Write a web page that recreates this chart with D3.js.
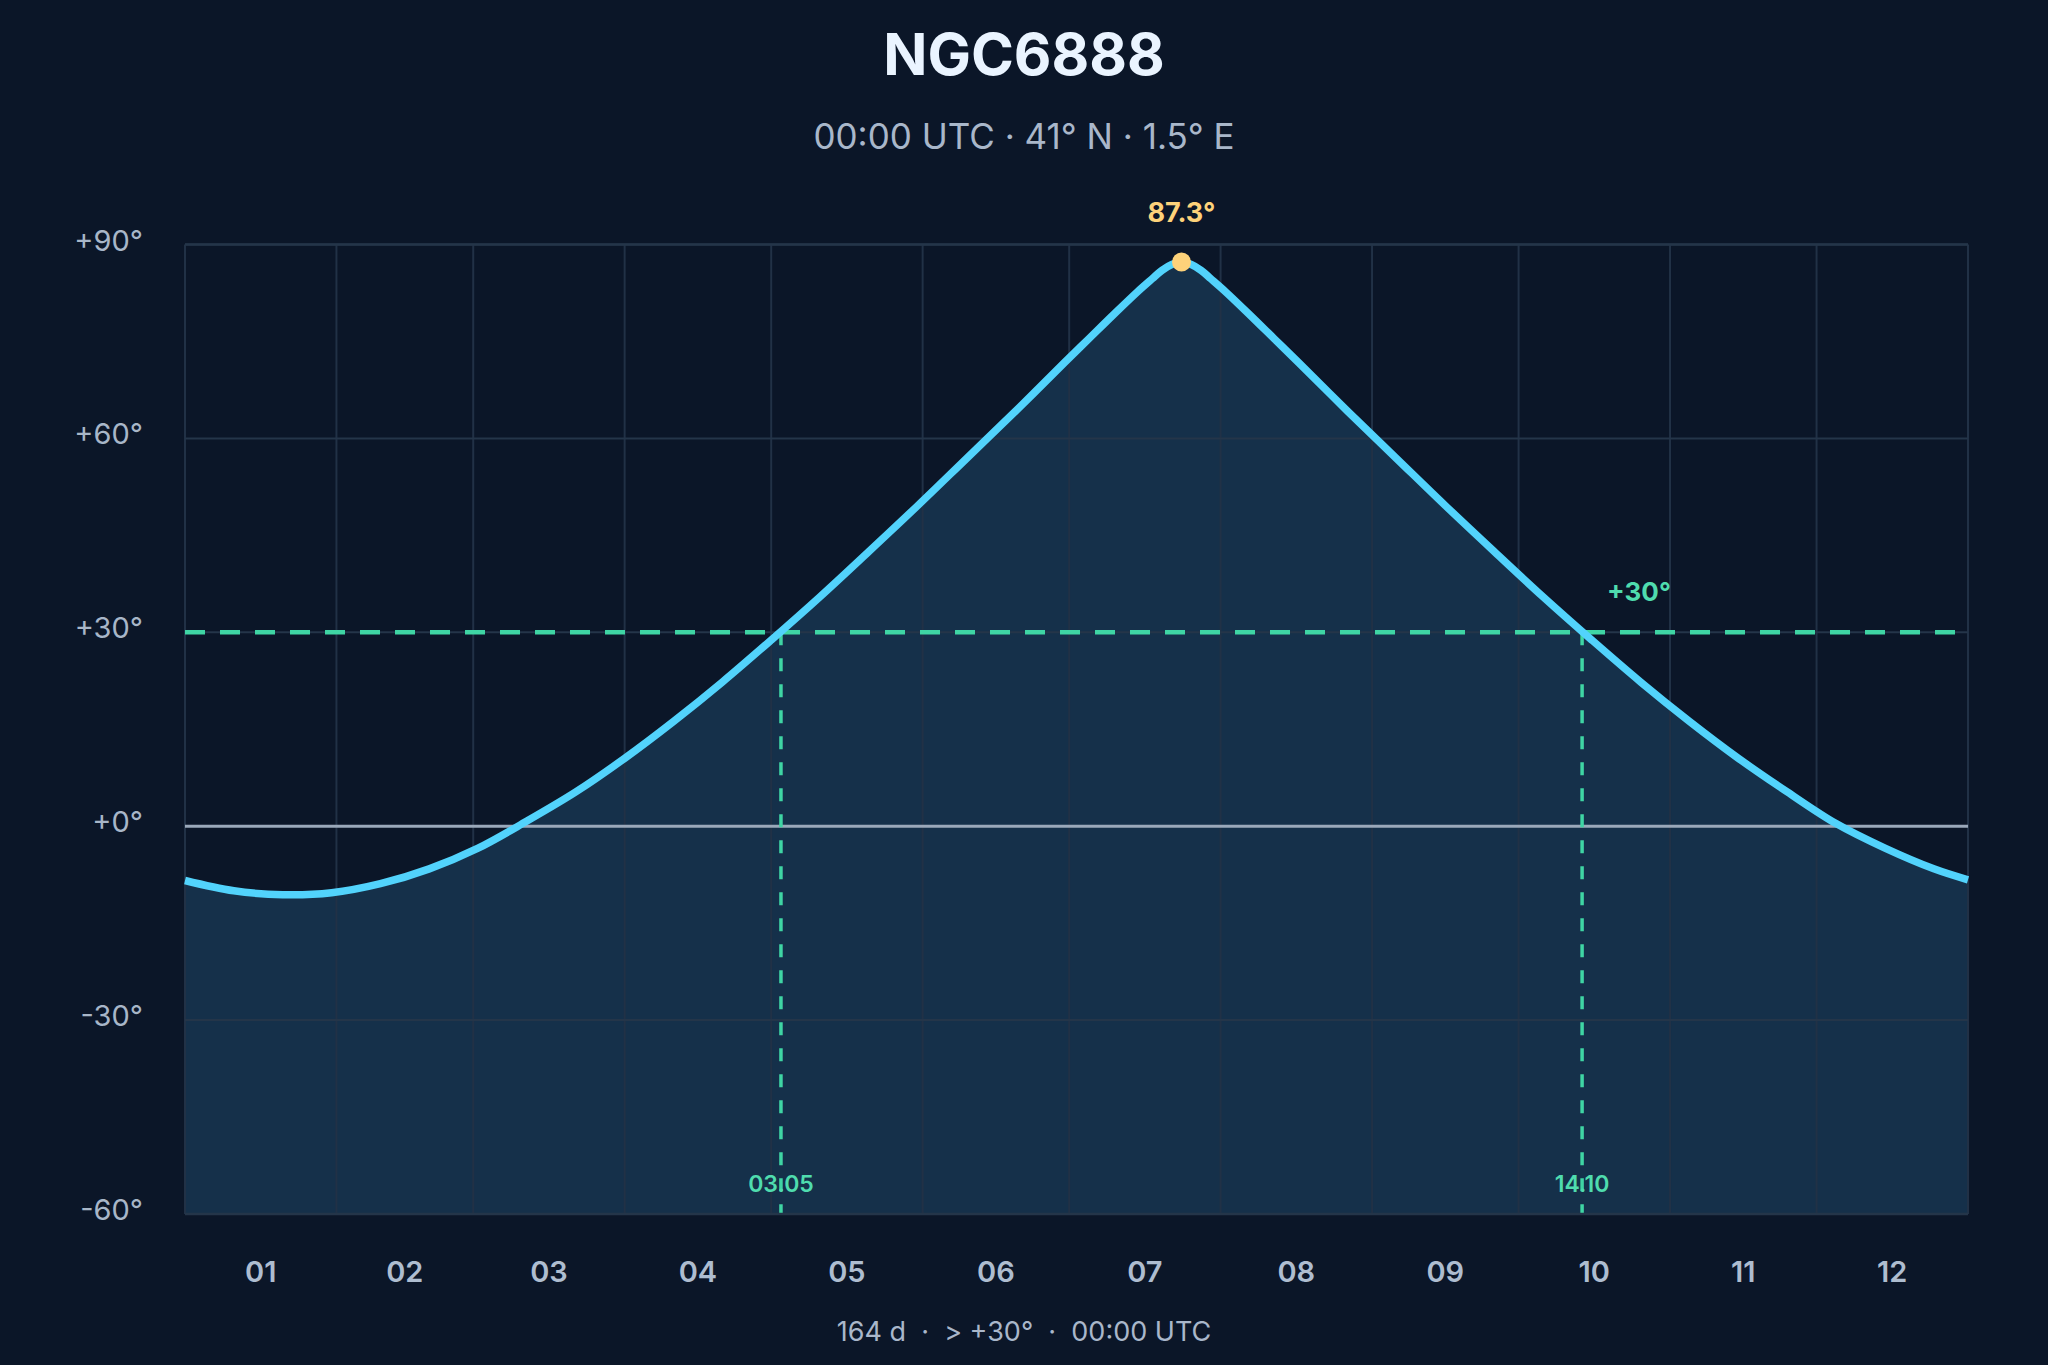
<!DOCTYPE html>
<html>
<head>
<meta charset="utf-8">
<script src="https://cdn.jsdelivr.net/npm/d3@7"></script>
<style>
  html, body { margin: 0; padding: 0; background: #0b1628; }
  svg { display: block; font-family: Inter, "Noto Sans", sans-serif; }
</style>
</head>
<body>
<div id="chart"></div>
<script>
// altitude of NGC6888 at 00:00 UTC (day of year, degrees)
const dayOfYear = [0, 10, 20, 30, 40, 50, 60, 70, 80, 90, 100, 110, 120, 130, 140, 150, 160, 170, 180,
    185, 190, 195, 198, 200, 202, 204, 206, 208, 210, 213, 218, 223, 228,
    238, 248, 258, 268, 278, 288, 298, 308, 318, 328, 338, 348, 358, 365];
const altitude = [-8.4, -10.0, -10.6, -10.3, -8.9, -6.6, -3.4, 0.8, 5.3, 10.5, 16.2, 22.3, 28.8, 35.5, 42.5, 49.6, 56.9, 64.2, 71.7,
    75.4, 79.1, 82.7, 84.7, 86.0, 86.9, 87.3, 86.9, 86.0, 84.7, 82.7, 79.1, 75.4, 71.7,
    64.2, 56.9, 49.6, 42.5, 35.5, 28.8, 22.3, 16.2, 10.5, 5.3, 0.4, -3.4, -6.6, -8.3];

const monthLabels = ["01", "02", "03", "04", "05", "06", "07", "08", "09", "10", "11", "12"];
const yTicks = [90, 60, 30, 0, -30, -60];
const yTickLabels = ["+90°", "+60°", "+30°", "+0°", "-30°", "-60°"];

const threshold = 30;
const crossDays = [122, 286];           // 03.05 and 14.10
const crossLabels = ["03.05", "14.10"];
const peakDay = 204;
const peakAlt = 87.3;

const title = "NGC6888";
const subtitle = "00:00 UTC · 41° N · 1.5° E";
const footer = "164 d  ·  > +30°  ·  00:00 UTC";

// dimensions
const W = 2048, H = 1365;
const margin = {top: 244.5, right: 80, bottom: 151, left: 185};
const width = W - margin.left - margin.right,
    height = H - margin.top - margin.bottom;

const start = new Date(Date.UTC(2025, 0, 1)),
    end = new Date(Date.UTC(2026, 0, 1));
const toDate = d => d3.utcDay.offset(start, d);

const data = dayOfYear.map((d, i) => ({date: toDate(d), alt: altitude[i]}));

const svg = d3.select("#chart")
    .append("svg")
        .attr("width", W)
        .attr("height", H);

svg.append("rect")
    .attr("width", W).attr("height", H)
    .attr("fill", "#0b1628");

const g = svg.append("g")
    .attr("transform", "translate(" + margin.left + "," + margin.top + ")");

const x = d3.scaleUtc()
    .domain([start, end])
    .range([0, width]);

const y = d3.scaleLinear()
    .domain([-60, 90])
    .range([height, 0]);

// area under the curve
g.append("path")
    .datum(data)
    .attr("fill", "#15304a")
    .attr("d", d3.area()
        .curve(d3.curveCatmullRom)
        .x(d => x(d.date))
        .y0(height)
        .y1(d => y(d.alt)));

// grid
const months = d3.utcMonth.range(start, end);
g.append("g")
    .selectAll("line")
    .data(months.concat([end]))
    .join("line")
        .attr("x1", d => x(d)).attr("x2", d => x(d))
        .attr("y1", 0).attr("y2", height)
        .attr("stroke", "#213146")
        .attr("stroke-width", 2);

g.append("g")
    .selectAll("line")
    .data(yTicks.filter(v => v != 0))
    .join("line")
        .attr("x1", 0).attr("x2", width)
        .attr("y1", d => y(d)).attr("y2", d => y(d))
        .attr("stroke", "#243549")
        .attr("stroke-width", 2);

// zero line
g.append("line")
    .attr("x1", 0).attr("x2", width)
    .attr("y1", y(0)).attr("y2", y(0))
    .attr("stroke", "#9aa8ba")
    .attr("stroke-width", 3);

// y labels
g.append("g")
    .selectAll("text")
    .data(yTicks)
    .join("text")
        .attr("x", -42)
        .attr("y", d => y(d) + 6)
        .attr("text-anchor", "end")
        .attr("fill", "#a8b6c8")
        .style("font-size", "29px")
        .text((d, i) => yTickLabels[i]);

// x labels at month middles
g.append("g")
    .selectAll("text")
    .data(months)
    .join("text")
        .attr("x", d => (x(d) + x(d3.utcMonth.offset(d, 1))) / 2)
        .attr("y", height + 68)
        .attr("text-anchor", "middle")
        .attr("fill", "#aebdd0")
        .style("font-size", "29px")
        .style("font-weight", 600)
        .text((d, i) => monthLabels[i]);

// threshold lines
const green = "#3fd5a4";
g.append("line")
    .attr("x1", 0).attr("x2", width)
    .attr("y1", y(threshold)).attr("y2", y(threshold))
    .attr("stroke", green)
    .attr("stroke-width", 4.5)
    .attr("stroke-dasharray", "20,15");

g.append("g")
    .selectAll("line")
    .data(crossDays)
    .join("line")
        .attr("x1", d => x(toDate(d))).attr("x2", d => x(toDate(d)))
        .attr("y1", y(threshold)).attr("y2", height)
        .attr("stroke", green)
        .attr("stroke-width", 3.5)
        .attr("stroke-dasharray", "13,13");

// the curve
g.append("path")
    .datum(data)
    .attr("fill", "none")
    .attr("stroke", "#52d3fc")
    .attr("stroke-width", 7.5)
    .attr("stroke-linejoin", "round")
    .attr("d", d3.line()
        .curve(d3.curveCatmullRom)
        .x(d => x(d.date))
        .y(d => y(d.alt)));

// plot frame top / bottom
g.append("line")
    .attr("x1", 0).attr("x2", width)
    .attr("y1", 0).attr("y2", 0)
    .attr("stroke", "#243549").attr("stroke-width", 2.5);
g.append("line")
    .attr("x1", 0).attr("x2", width)
    .attr("y1", height).attr("y2", height)
    .attr("stroke", "#243549").attr("stroke-width", 2.5);

// crossing labels
g.append("g")
    .selectAll("text")
    .data(crossDays)
    .join("text")
        .attr("x", d => x(toDate(d)))
        .attr("y", height - 22)
        .attr("text-anchor", "middle")
        .attr("fill", "#4fdcae")
        .style("font-size", "23px")
        .style("font-weight", 600)
        .text((d, i) => crossLabels[i]);

// +30 label
g.append("text")
    .attr("x", x(toDate(crossDays[1])) + 25)
    .attr("y", y(threshold) - 31)
    .attr("fill", "#4fdcae")
    .style("font-size", "26px")
    .style("font-weight", 700)
    .text("+30°");

// peak
g.append("circle")
    .attr("cx", x(toDate(peakDay)))
    .attr("cy", y(peakAlt))
    .attr("r", 9.5)
    .attr("fill", "#fdd27a");

g.append("text")
    .attr("x", x(toDate(peakDay)))
    .attr("y", y(peakAlt) - 40)
    .attr("text-anchor", "middle")
    .attr("fill", "#fdd27a")
    .style("font-size", "27px")
    .style("font-weight", 700)
    .text(peakAlt.toFixed(1) + "°");

// titles
svg.append("text")
    .attr("x", W / 2)
    .attr("y", 75)
    .attr("text-anchor", "middle")
    .attr("fill", "#eaf4ff")
    .style("font-size", "58px")
    .style("font-weight", 700)
    .text(title);

svg.append("text")
    .attr("x", W / 2)
    .attr("y", 149)
    .attr("text-anchor", "middle")
    .attr("fill", "#a9b7ca")
    .style("font-size", "35px")
    .text(subtitle);

svg.append("text")
    .attr("x", W / 2)
    .attr("y", 1341)
    .attr("text-anchor", "middle")
    .attr("fill", "#a9b7ca")
    .style("font-size", "27px")
    .style("white-space", "pre")
    .text(footer);
</script>
</body>
</html>
